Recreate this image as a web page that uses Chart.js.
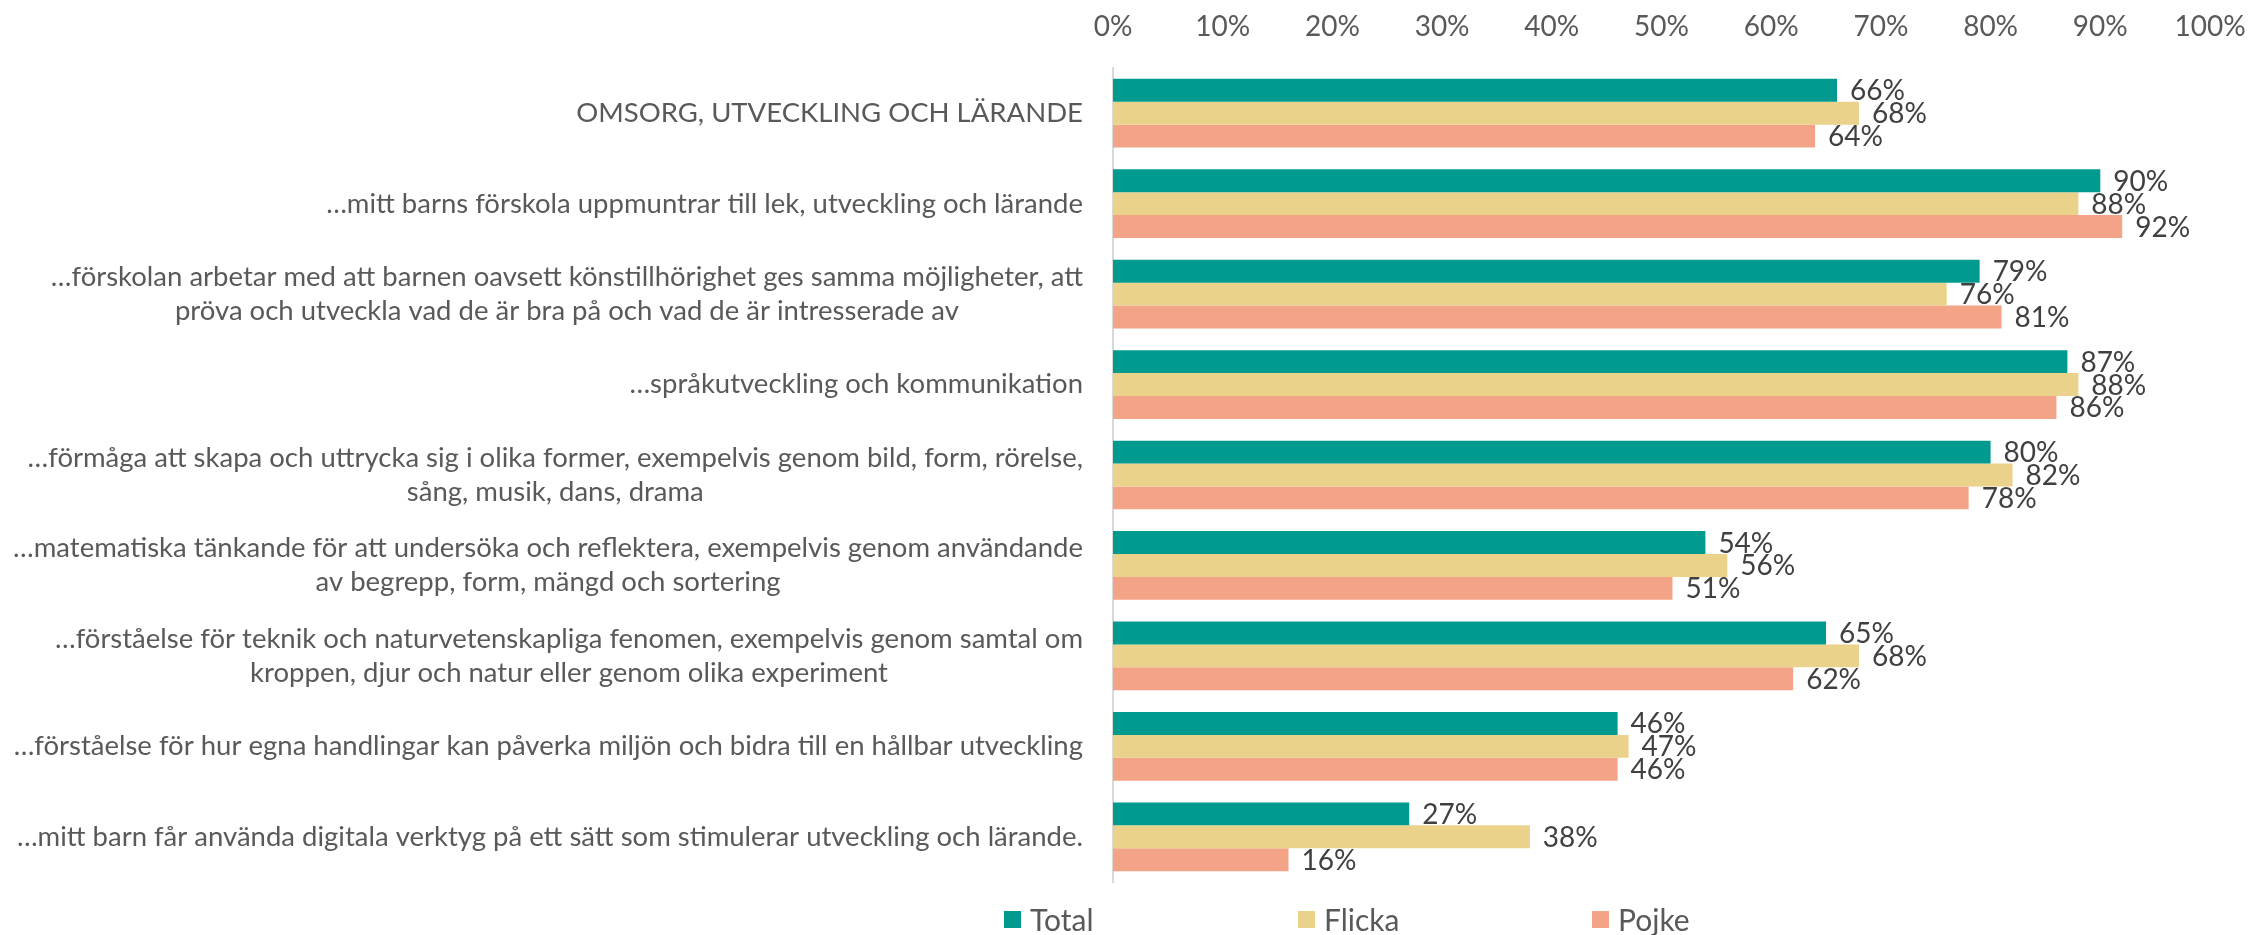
<!DOCTYPE html>
<html>
<head>
<meta charset="utf-8">
<script src="https://cdn.jsdelivr.net/npm/chart.js@4.4.0/dist/chart.umd.min.js"></script>
<style>
  html, body { margin: 0; padding: 0; background: #fff; }
  #wrap { position: relative; width: 2249px; height: 935px; }
  #legend { position: absolute; left: 1004px; top: 901px; display: flex; font-family: Lato, sans-serif; font-size: 30px; color: #595959; }
  .item { width: 294px; display: flex; align-items: center; }
  .box { width: 17px; height: 17px; margin-right: 9px; }
</style>
</head>
<body>
<div id="wrap">
  <canvas id="chart" width="2249" height="935"></canvas>
  <div id="legend"></div>
</div>
<script>
// Kategorier (flerradiga etiketter som arrayer)
const categories = [
  'OMSORG, UTVECKLING OCH LÄRANDE',
  '…mitt barns förskola uppmuntrar till lek, utveckling och lärande',
  ['…förskolan arbetar med att barnen oavsett könstillhörighet ges samma möjligheter, att', 'pröva och utveckla vad de är bra på och vad de är intresserade av'],
  '…språkutveckling och kommunikation',
  ['…förmåga att skapa och uttrycka sig i olika former, exempelvis genom bild, form, rörelse,', 'sång, musik, dans, drama'],
  ['…matematiska tänkande för att undersöka och reflektera, exempelvis genom användande', 'av begrepp, form, mängd och sortering'],
  ['…förståelse för teknik och naturvetenskapliga fenomen, exempelvis genom samtal om', 'kroppen, djur och natur eller genom olika experiment'],
  '…förståelse för hur egna handlingar kan påverka miljön och bidra till en hållbar utveckling',
  '…mitt barn får använda digitala verktyg på ett sätt som stimulerar utveckling och lärande.'
];

const seriesNames = ['Total', 'Flicka', 'Pojke'];
const totalValues = [66, 90, 79, 87, 80, 54, 65, 46, 27];
const flickaValues = [68, 88, 76, 88, 82, 56, 68, 47, 38];
const pojkeValues = [64, 92, 81, 86, 78, 51, 62, 46, 16];
const seriesColors = ['#009B8E', '#EAD28A', '#F4A486'];

const xTicks = [0, 10, 20, 30, 40, 50, 60, 70, 80, 90, 100];

const FONT = 'Lato, sans-serif';

// Procentetiketter till höger om staplarna
const barLabels = {
  id: 'barLabels',
  afterDatasetsDraw(chart) {
    const ctx = chart.ctx;
    ctx.save();
    ctx.font = '28px ' + FONT;
    ctx.fillStyle = '#404040';
    ctx.textAlign = 'left';
    ctx.textBaseline = 'middle';
    chart.data.datasets.forEach((ds, i) => {
      chart.getDatasetMeta(i).data.forEach((bar, j) => {
        ctx.fillText(Math.round(ds.data[j]) + '%', bar.x + 13, bar.y + 1);
      });
    });
    ctx.restore();
  }
};

// Kategorietiketter: högerställt block, raderna centrerade inom blocket
const categoryLabels = {
  id: 'categoryLabels',
  afterDraw(chart) {
    const yScale = chart.scales.y;
    const ctx = chart.ctx;
    ctx.save();
    ctx.font = '27.5px ' + FONT;
    ctx.fillStyle = '#595959';
    ctx.textAlign = 'center';
    ctx.textBaseline = 'middle';
    const right = chart.chartArea.left - 30;
    const lineHeight = 34;
    categories.forEach((label, i) => {
      const rows = Array.isArray(label) ? label : [label];
      const w = Math.max(...rows.map(r => ctx.measureText(r).width));
      const cx = right - w / 2;
      const cy = yScale.getPixelForTick(i);
      rows.forEach((r, k) => {
        ctx.fillText(r, cx, cy + (k - (rows.length - 1) / 2) * lineHeight);
      });
    });
    ctx.restore();
  }
};

const config = {
  type: 'bar',
  data: {
    labels: categories,
    datasets: [
      { label: seriesNames[0], data: totalValues, backgroundColor: seriesColors[0] },
      { label: seriesNames[1], data: flickaValues, backgroundColor: seriesColors[1] },
      { label: seriesNames[2], data: pojkeValues, backgroundColor: seriesColors[2] }
    ]
  },
  options: {
    indexAxis: 'y',
    responsive: false,
    animation: false,
    devicePixelRatio: 1,
    categoryPercentage: 0.76,
    barPercentage: 1.0,
    layout: { padding: { left: 0, right: 39, top: 0, bottom: 53 } },
    plugins: {
      legend: { display: false },
      tooltip: { enabled: false }
    },
    scales: {
      x: {
        position: 'top',
        min: 0,
        max: 100,
        afterBuildTicks: scale => { scale.ticks = xTicks.map(v => ({ value: v })); },
        afterFit: scale => {
          scale.height = 68;
          scale.paddingLeft = 0;
          scale.paddingRight = 0;
        },
        grid: { display: false, drawTicks: false },
        border: { display: false },
        ticks: {
          padding: 24,
          color: '#595959',
          font: { family: FONT, size: 28 },
          callback: v => v + '%'
        }
      },
      y: {
        afterFit: scale => { scale.width = 1113; },
        grid: { display: false, drawTicks: false },
        border: { display: true, color: '#D9D9D9', width: 2 },
        ticks: { display: false }
      }
    }
  },
  plugins: [barLabels, categoryLabels]
};

new Chart(document.getElementById('chart'), config);

// Förklaring
const legend = document.getElementById('legend');
seriesNames.forEach((name, i) => {
  const item = document.createElement('div');
  item.className = 'item';
  const box = document.createElement('span');
  box.className = 'box';
  box.style.background = seriesColors[i];
  const txt = document.createElement('span');
  txt.textContent = name;
  item.appendChild(box);
  item.appendChild(txt);
  legend.appendChild(item);
});
</script>
</body>
</html>
